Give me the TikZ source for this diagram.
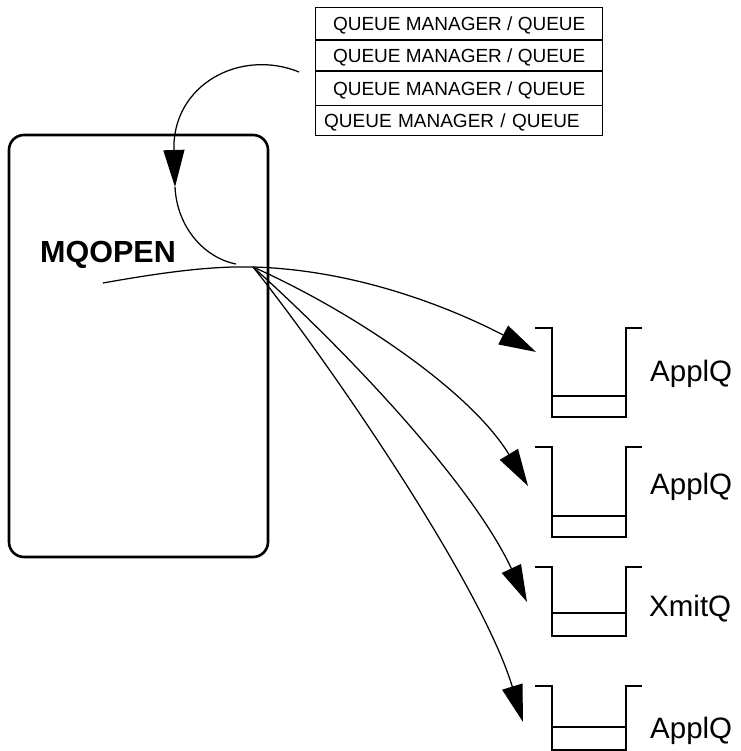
\documentclass[tikz,border=0pt]{standalone}
\usepackage{fontspec}
\setmainfont{Liberation Sans}
\usetikzlibrary{arrows.meta}
\begin{document}
\begin{tikzpicture}[x=1pt,y=-1pt,
  conn/.style={line width=1.25pt},
  tip/.style={-{Triangle[length=37pt,width=21pt]}},
  rowbox/.style={draw,line width=1.4pt,minimum width=287pt,inner sep=0pt,font=\fontsize{19}{19}\selectfont,text height=13.6pt,text depth=0pt},
  qline/.style={line width=1.5pt},
  qlabel/.style={anchor=base west,inner sep=0pt,font=\fontsize{29.5}{29.5}\selectfont}]
\useasboundingbox (0,0) rectangle (740,751);
% big box
\node[draw,line width=2.6pt,rounded corners=15pt,minimum width=259pt,minimum height=422pt,inner sep=0pt] (box) at (138.5,346) {};
\node[anchor=base west,inner sep=0pt,font=\fontsize{30.5}{30.5}\selectfont\bfseries] (mq) at (40,262) {MQOPEN};
% table
\node[rowbox,minimum height=32.7pt] (r1) at (459.2,23.65) {QUEUE MANAGER / QUEUE};
\node[rowbox,minimum height=31pt] (r2) at (459.2,55.5) {QUEUE MANAGER / QUEUE};
\node[rowbox,minimum height=34.7pt] (r3) at (459.2,88.35) {QUEUE MANAGER / QUEUE};
\node[rowbox,minimum height=30pt,text width=270pt,align=left] (r4) at (459.2,120.7) {QUEUE MANAGER / QUEUE};
% queues
\foreach \t/\m/\b [count=\i] in {328/396/417, 447/516/537, 567/613/636, 686/727/750}{
  \draw[qline] (535,\t) -- (552,\t) -- (552,\b) -- (626,\b) -- (626,\t) -- (642,\t);
  \draw[qline] (552,\m) -- (626,\m);
  \coordinate (q\i) at (552,\t);
}
\node[qlabel] (l1) at (650,381) {ApplQ};
\node[qlabel] (l2) at (650,494) {ApplQ};
\node[qlabel] (l3) at (649,616) {XmitQ};
\node[qlabel] (l4) at (650,738) {ApplQ};
% curve from table into box
\coordinate (s0) at (299,72);
\coordinate (c0) at (175,187);
\coordinate (e0) at (236,264);
\draw[conn,tip] (s0) .. controls (240,48) and (172,85) .. (c0);
\draw[conn] (c0) .. controls (177,228) and (205,258) .. (e0);
% fan
\coordinate (o) at (253,267);
\coordinate (arcstart) at (103,283);
\coordinate (t1) at (536,352);
\coordinate (t2) at (528,486);
\coordinate (t3) at (527,602);
\coordinate (t4) at (523,722);
\draw[conn] (arcstart) .. controls (170,271) and (215,266) .. (o);
\draw[conn,tip] (o) .. controls (360,270) and (455,310) .. (t1);
\draw[conn,tip] (o) .. controls (350,310) and (470,390) .. (t2);
\draw[conn,tip] (o) .. controls (340,345) and (470,480) .. (t3);
\draw[conn,tip] (o) .. controls (320,350) and (480,580) .. (t4);
\end{tikzpicture}
\end{document}
